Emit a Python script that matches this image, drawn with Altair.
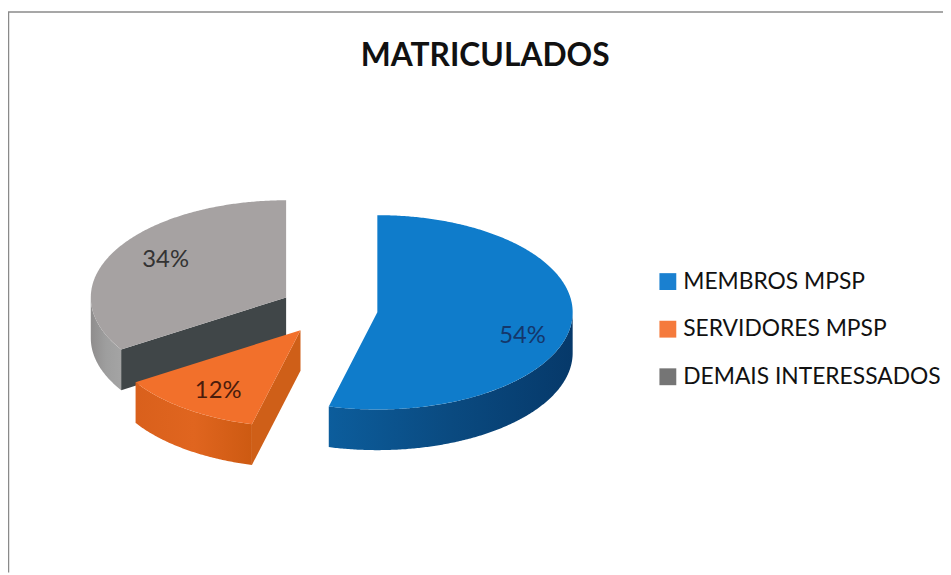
import numpy as np
import altair as alt

categories = ["MEMBROS MPSP", "SERVIDORES MPSP", "DEMAIS INTERESSADOS"]
shares = [54, 12, 34]
labels = ["54%", "12%", "34%"]
title_text = "MATRICULADOS"

# layout constants (pixels inside the plot area; page margin is 8px)
W, H = 943, 567
RX, RY, DEPTH = 197, 98, 41
CENTERS = {0: (372.5, 304.5), 1: (295, 322.5), 2: (280.5, 289.5)}
LABEL_XY = {0: (519, 328), 1: (212, 384), 2: (159, 252)}
KEY_COLORS = ["#1a80d0", "#f57a3c", "#757575"]
TOP_COLORS = ["#0f7ccb", "#f2702b", "#a6a2a2"]
OUTER_STOPS = [["#0c5d9c", "#0a4a80", "#06396a"],
               ["#d9601c", "#e0651f", "#cd5a12"],
               ["#8f8d8d", "#9e9e9e", "#a4a4a4"]]
CUT_COLORS = [None, "#cf5f18", "#404648"]
TEXT_COLORS = ["#14376b", "#4a1c0c", "#333333"]
FONT = "Lato"


def rim(c, a1, a2):
    t = np.radians(np.linspace(a1, a2, max(2, int(abs(a2 - a1) * 2))))
    return [[c[0] + RX * np.sin(v), c[1] - RY * np.cos(v)] for v in t]


def feature(points, **props):
    pts = [[float(x), float(y)] for x, y in points]
    pts.append(pts[0])
    return {"type": "Feature", "properties": props,
            "geometry": {"type": "Polygon", "coordinates": [pts]}}


def down(points):
    return [[x, y + DEPTH] for x, y in points]


proj = dict(type="identity", scale=1, translate=[0, 0])


def shape(features, **mark):
    return alt.Chart(alt.Data(values=features)).mark_geoshape(strokeWidth=0, **mark).project(**proj)


def hgrad(colors):
    return alt.LinearGradient(
        gradient="linear", x1=0, x2=1, y1=0, y2=0,
        stops=[alt.GradientStop(color=c, offset=i / (len(colors) - 1)) for i, c in enumerate(colors)],
    )


angles = np.cumsum([0] + shares) * 3.6
spans = [(angles[i], angles[i + 1]) for i in range(len(shares))]

layers = []
base_faces = []
for i in (2, 1, 0):
    c = CENTERS[i]
    a1, a2 = spans[i]
    # outer wall: only the front half of the rim is seen
    f1, f2 = max(a1, 90), min(a2, 270)
    if f2 > f1:
        r = rim(c, f1, f2)
        layers.append(shape([feature(r + down(r)[::-1])], fill=hgrad(OUTER_STOPS[i])))
    # cut wall at the start edge, visible when it turns to the viewer
    if CUT_COLORS[i]:
        p = rim(c, a1, a1)[0]
        layers.append(shape([feature([c, p, [p[0], p[1] + DEPTH], [c[0], c[1] + DEPTH]])],
                            fill=CUT_COLORS[i]))
    layers.append(shape([feature([c] + rim(c, a1, a2))], fill=TOP_COLORS[i]))
    base_faces.append(feature([c, c, c], name=categories[i]))

legend_layer = (
    alt.Chart(alt.Data(values=base_faces))
    .mark_geoshape(strokeWidth=0)
    .encode(
        color=alt.Color(
            "properties.name:N",
            scale=alt.Scale(domain=categories, range=KEY_COLORS),
            sort=categories,
            legend=alt.Legend(
                title=None, orient="none", legendX=654, legendY=262,
                symbolType="square", symbolSize=289, symbolStrokeWidth=0,
                symbolOpacity=1, labelFont=FONT, labelFontSize=23, labelColor="#111111",
                labelOffset=4, rowPadding=24, labelLimit=320,
            ),
        )
    )
    .project(**proj)
)

texts = [
    alt.Chart(alt.Data(values=[{"t": labels[i]}]))
    .mark_text(font=FONT, fontSize=24, color=TEXT_COLORS[i], align="center", baseline="middle")
    .encode(text="t:N", x=alt.value(LABEL_XY[i][0]), y=alt.value(LABEL_XY[i][1]))
    for i in range(3)
]

frame = [
    alt.Chart(alt.Data(values=[{"a": 0}])).mark_rule(color="#8a8a8a", strokeWidth=1.5).encode(
        x=alt.value(x0), x2=alt.value(x1), y=alt.value(y0), y2=alt.value(y1))
    for x0, x1, y0, y1 in [(0, W, 1.5, 1.5), (0.5, 0.5, 1.5, H)]
]

chart = alt.layer(*frame, legend_layer, *layers, *texts).properties(
    width=W, height=H, padding=0,
    autosize=alt.AutoSizeParams(type="none"),
    title=alt.TitleParams(title_text, font=FONT, fontSize=32, fontWeight="bold", color="#111111",
                          anchor="start", align="center", dx=482, dy=67),
).configure_view(stroke=None)

chart.save("out.html", embed_options={"renderer": "svg", "actions": False})
